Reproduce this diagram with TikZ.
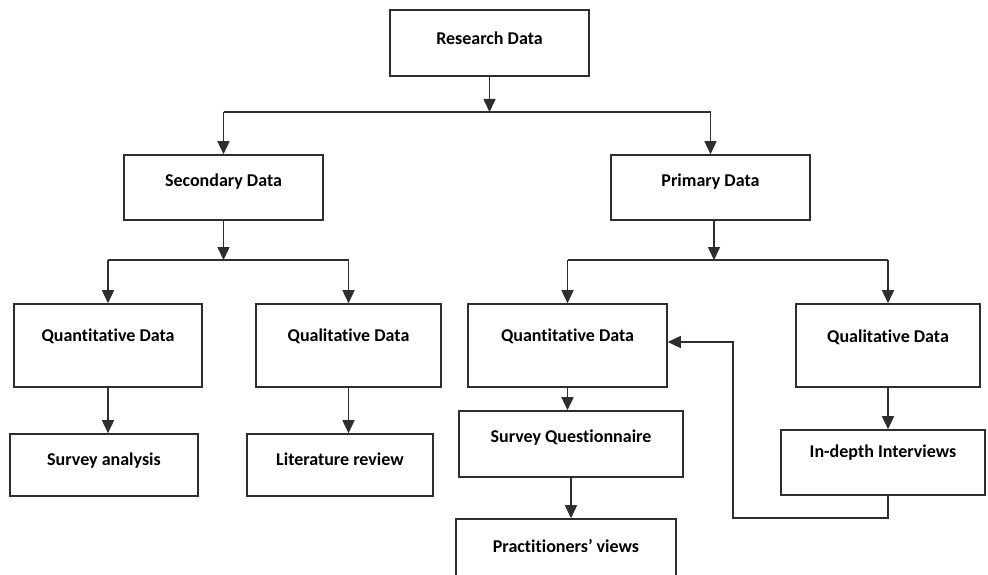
\documentclass[tikz,border=0pt]{standalone}
\usepackage{fontspec}
\setmainfont[Ligatures=NoCommon]{Carlito}
\usetikzlibrary{arrows.meta}
\definecolor{ink}{gray}{0.18}
\tikzset{
  box/.style={draw=ink, line width=1.6pt, rectangle, inner sep=0pt},
  lbl/.style={font=\fontsize{18}{20}\selectfont\bfseries, text=black, inner sep=0pt},
  link/.style={draw=ink, line width=1.6pt},
  arr/.style={link, -{Triangle[width=12pt,length=13pt]}},
}
\begin{document}
\begin{tikzpicture}[x=1pt,y=-1pt]
  \useasboundingbox (0,0) rectangle (988,575);
  \clip (0,0) rectangle (988,575);
  \fill[white] (0,0) rectangle (988,575);

  % boxes
  \node[box, minimum width=199pt, minimum height=66pt] (rd) at (489.5,43) {};
  \node[box, minimum width=199pt, minimum height=65pt] (sd) at (223.5,187.5) {};
  \node[box, minimum width=199pt, minimum height=65pt] (pd) at (710.5,187.5) {};
  \node[box, minimum width=188pt, minimum height=83pt] (lqn) at (108,345.5) {};
  \node[box, minimum width=185pt, minimum height=83pt] (lql) at (348.5,345.5) {};
  \node[box, minimum width=199pt, minimum height=83pt] (rqn) at (567.5,345.5) {};
  \node[box, minimum width=184pt, minimum height=83pt] (rql) at (888,345.5) {};
  \node[box, minimum width=188pt, minimum height=62pt] (sa) at (104,465) {};
  \node[box, minimum width=186pt, minimum height=62pt] (lr) at (340,465) {};
  \node[box, minimum width=224pt, minimum height=66pt] (sq) at (571,444) {};
  \node[box, minimum width=204pt, minimum height=65pt] (idi) at (883,462.5) {};
  \node[box, minimum width=220pt, minimum height=71pt] (pv) at (566,554.5) {};

  % labels
  \node[lbl] (rd-t) at (489.5,38) {Research Data};
  \node[lbl] (sd-t) at (223.5,182) {Secondary Data};
  \node[lbl] (pd-t) at (710.5,182) {Primary Data};
  \node[lbl] (lqn-t) at (108,336) {Quantitative Data};
  \node[lbl] (lql-t) at (348.5,336) {Qualitative Data};
  \node[lbl] (rqn-t) at (567.5,336) {Quantitative Data};
  \node[lbl] (rql-t) at (888,337) {Qualitative Data};
  \node[lbl] (sa-t) at (104,461) {Survey analysis};
  \node[lbl] (lr-t) at (340,459) {Literature review};
  \node[lbl] (sq-t) at (571,438) {Survey Questionnaire};
  \node[lbl] (idi-t) at (883,453) {In-depth Interviews};
  \node[lbl] (pv-t) at (566,546) {Practitioners’ views};

  % branch points
  \coordinate (j1) at (489.5,112);
  \coordinate (j2) at (223.5,260);
  \coordinate (j3) at (714,260);
  \coordinate (fb) at (733,518);
  \coordinate (fbtop) at (733,342);

  % research data split
  \draw[arr] (rd.south) -- (j1);
  \draw[link] (sd.north |- j1) -- (pd.north |- j1);
  \draw[arr] (sd.north |- j1) -- (sd.north);
  \draw[arr] (pd.north |- j1) -- (pd.north);

  % secondary data split
  \draw[arr] (sd.south) -- (j2);
  \draw[link] (lqn.north |- j2) -- (lql.north |- j2);
  \draw[arr] (lqn.north |- j2) -- (lqn.north);
  \draw[arr] (lql.north |- j2) -- (lql.north);

  % primary data split
  \draw[arr] (pd.south -| j3) -- (j3);
  \draw[link] (rqn.north |- j3) -- (rql.north |- j3);
  \draw[arr] (rqn.north |- j3) -- (rqn.north);
  \draw[arr] (rql.north |- j3) -- (rql.north);

  % lower chains
  \draw[arr] (lqn.south) -- (lqn.south |- sa.north);
  \draw[arr] (lql.south) -- (lql.south |- lr.north);
  \draw[arr] (rqn.south) -- (rqn.south |- sq.north);
  \draw[arr] (sq.south) -- (sq.south |- pv.north);
  \draw[arr] (rql.south) -- (rql.south |- idi.north);

  % interviews feed back into quantitative data
  \draw[arr] (rql.south |- idi.south) |- (fb) -- (fbtop) -- (rqn.east |- fbtop);
\end{tikzpicture}
\end{document}
